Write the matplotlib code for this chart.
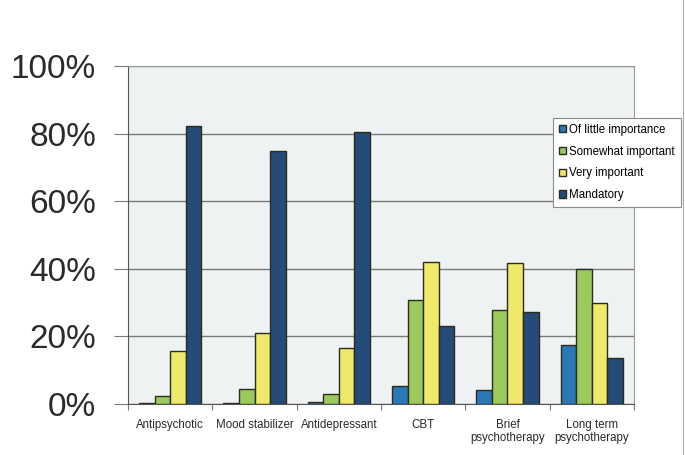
import numpy as np
import matplotlib.pyplot as plt
from matplotlib.lines import Line2D

plt.rcParams['font.family'] = ['Liberation Sans', 'DejaVu Sans']

categories = ['Antipsychotic', 'Mood stabilizer', 'Antidepressant', 'CBT',
              'Brief\npsychotherapy', 'Long term\npsychotherapy']
series = ['Of little importance', 'Somewhat important', 'Very important', 'Mandatory']
little = [0.3, 0.2, 0.5, 5.3, 4.1, 17.5]
somewhat = [2.4, 4.4, 3.0, 30.8, 27.8, 40.0]
very = [15.7, 21.0, 16.6, 42.0, 41.7, 29.9]
mandatory = [82.2, 74.9, 80.5, 23.0, 27.2, 13.6]
values = [little, somewhat, very, mandatory]
colors = ['#2b78b8', '#9cc95c', '#eee96a', '#254c78']

fig = plt.figure(figsize=(6.85, 4.55), dpi=100)
ax = fig.add_axes([128/685, 51/455, 506/685, 338/455])
ax.set_facecolor('#eff2f2')

x = np.arange(len(categories))
w = 0.184
for i, (vals, col, name) in enumerate(zip(values, colors, series)):
    ax.bar(x + (i - 1.5) * w, vals, w, color=col, edgecolor='#2b2b1e',
           linewidth=1.0, label=name, zorder=3)

ax.set_xlim(-0.5, len(categories) - 0.5)
ax.set_ylim(0, 100)
ax.set_yticks(np.arange(0, 101, 20))
ax.set_yticklabels([f'{v}%' for v in range(0, 101, 20)], fontsize=24, color='#2a2a2a')
ax.yaxis.grid(True, color='#7a7a7a', linewidth=1.0, zorder=0)
ax.tick_params(axis='y', length=10, color='#7a7a7a', pad=13)

ax.set_xticks(np.arange(len(categories) + 1) - 0.5)
ax.set_xticklabels([])
ax.set_xticks(x, minor=True)
ax.set_xticklabels(categories, minor=True, fontsize=8.3, color='#2a2a2a',
                   linespacing=1.1, va='top')
ax.tick_params(axis='x', which='major', length=4, color='#7a7a7a')
ax.tick_params(axis='x', which='minor', length=0, pad=11)

for s in ['left', 'bottom']:
    ax.spines[s].set_color('#555555')
for s in ['top', 'right']:
    ax.spines[s].set_color('#9a9a9a')

leg = ax.legend(loc='upper left', bbox_to_anchor=(553/685, 1 - 118/455),
                bbox_transform=fig.transFigure, fontsize=8.3, frameon=True,
                fancybox=False, edgecolor='#8a8a8a', framealpha=1,
                handlelength=0.6, handleheight=0.6, handletextpad=0.3,
                labelspacing=0.85, borderpad=0.5, borderaxespad=0)
leg.get_frame().set_linewidth(0.8)

fig.add_artist(Line2D([683/685, 683/685], [0, 1], color='#aaaaaa', linewidth=0.8))

fig.savefig('out.png', dpi=100)
